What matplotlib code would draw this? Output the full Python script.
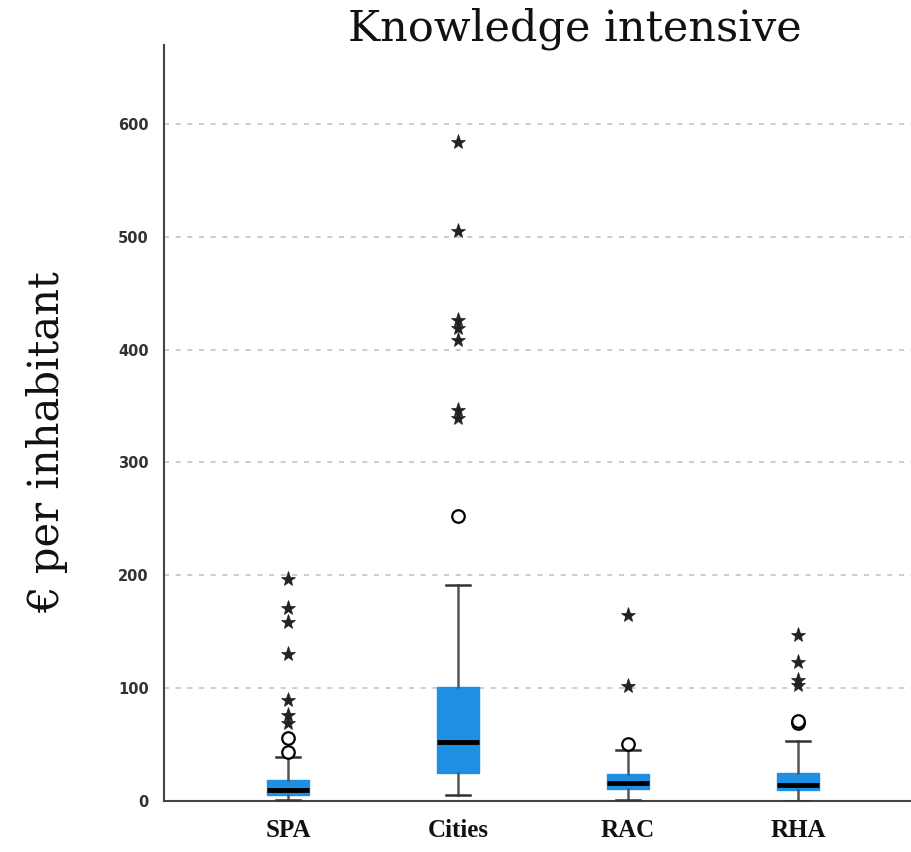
import matplotlib
matplotlib.use("Agg")
import matplotlib.pyplot as plt

categories = ["SPA", "Cities", "RAC", "RHA"]

# Box statistics (€ per inhabitant)
whisker_low = [0.5, 5.3, 0.9, 0.3]
q1 = [5.5, 24.5, 10.6, 9.7]
median = [10.0, 52.6, 15.6, 14.2]
q3 = [18.6, 101.3, 23.9, 25.1]
whisker_high = [38.7, 191.4, 45.2, 53.5]

# Outliers (circles) and extreme values (stars)
outliers_spa = [43.7, 55.6]
outliers_cities = [252.6]
outliers_rac = [50.5]
outliers_rha = [69.5, 71.0]

extremes_spa = [197, 171, 159, 130, 89.5, 76, 69]
extremes_cities = [584, 505, 426, 419, 409, 346.5, 339]
extremes_rac = [164.8, 102.2]
extremes_rha = [147, 123.5, 107, 103]

outliers = [outliers_spa, outliers_cities, outliers_rac, outliers_rha]
extremes = [extremes_spa, extremes_cities, extremes_rac, extremes_rha]

y_ticks = [0, 100, 200, 300, 400, 500, 600]

BOX_BLUE = "#1E8FE2"
WHISKER_GREY = "#555555"

fig = plt.figure(figsize=(9.12, 8.52), dpi=100)
ax = fig.add_axes([164 / 912, 1 - 801 / 852, 1 - 164 / 912, (801 - 45) / 852])

positions = list(range(1, len(categories) + 1))
stats = []
for i, name in enumerate(categories):
    stats.append(dict(label=name, whislo=whisker_low[i], q1=q1[i], med=median[i],
                      q3=q3[i], whishi=whisker_high[i], fliers=[]))

ax.bxp(stats, positions=positions, widths=0.25, patch_artist=True,
       showfliers=False,
       boxprops=dict(facecolor=BOX_BLUE, edgecolor=BOX_BLUE, linewidth=1),
       medianprops=dict(color="black", linewidth=3.5, solid_capstyle="butt"),
       whiskerprops=dict(color=WHISKER_GREY, linewidth=1.8),
       capprops=dict(color="#333333", linewidth=1.8),
       capwidths=0.14, zorder=3)

for pos, vals in zip(positions, outliers):
    ax.plot([pos] * len(vals), vals, linestyle="none", marker="o", markersize=9,
            markerfacecolor="white", markeredgecolor="black", markeredgewidth=1.6,
            zorder=4)
for pos, vals in zip(positions, extremes):
    ax.plot([pos] * len(vals), vals, linestyle="none", marker="*", markersize=11,
            markerfacecolor="#222222", markeredgecolor="#222222", markeredgewidth=0.5,
            zorder=4)

ax.set_xlim(1 - 124 / 170, 4 + 114 / 170)
ax.set_ylim(0, 670)
ax.set_yticks(y_ticks)
ax.set_yticklabels([str(t) for t in y_ticks], fontfamily="DejaVu Sans",
                   fontweight="bold", fontsize=10.5, color="#333333")
ax.set_xticks(positions)
ax.set_xticklabels(categories, fontfamily="Liberation Serif", fontweight="bold",
                   fontsize=18, color="#111111")
ax.tick_params(axis="y", length=0, pad=11)
ax.tick_params(axis="x", length=0, pad=13)

for y in y_ticks[1:]:
    ax.axhline(y, color="#C4C4C4", linestyle=(0, (3, 4)), linewidth=1.2, zorder=1)

for side in ("top", "right"):
    ax.spines[side].set_visible(False)
for side in ("left", "bottom"):
    ax.spines[side].set_color("#444444")
    ax.spines[side].set_linewidth(1.5)

fig.text(575 / 912, 1 - 29 / 852, "Knowledge intensive", fontfamily="DejaVu Serif",
         fontsize=31, ha="center", va="center", color="#111111")
fig.text(47 / 912, 1 - 442 / 852, "€ per inhabitant", fontfamily="DejaVu Serif",
         fontsize=30, rotation=90, ha="center", va="center", color="#111111")

fig.savefig("out.png", dpi=100, facecolor="white")
